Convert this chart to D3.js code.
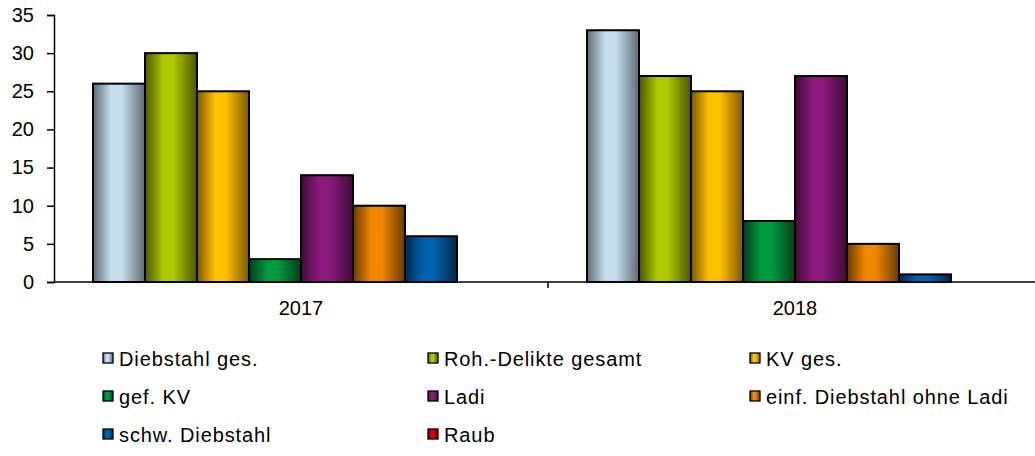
<!DOCTYPE html>
<html><head><meta charset="utf-8">
<script src="https://cdn.jsdelivr.net/npm/d3@7"></script>
<style>
html,body{margin:0;padding:0;background:#fff;}
svg{display:block;font-family:"Liberation Sans",Arial,sans-serif;}
</style></head>
<body>
<svg id="chart" width="1035" height="456"></svg>
<script>
const categories = ["2017", "2018"];
const seriesNames = ["Diebstahl ges.", "Roh.-Delikte gesamt", "KV ges.", "gef. KV", "Ladi", "einf. Diebstahl ohne Ladi", "schw. Diebstahl", "Raub"];
const values2017 = [26, 30, 25, 3, 14, 10, 6, 0];
const values2018 = [33, 27, 25, 8, 27, 5, 1, 0];
const yTicks = [0, 5, 10, 15, 20, 25, 30, 35];
const lightColors = ["#c6dfee", "#afc800", "#ffc200", "#009a40", "#8c1a7c", "#f08800", "#0062ab", "#e00000"];
const darkColors  = ["#5c6a74", "#4a5600", "#7a5800", "#003d1a", "#3d0b36", "#6a3a00", "#00284a", "#600000"];

const valuesByCat = [values2017, values2018];
const svg = d3.select("#chart");
const margin = {left: 54, top: 15, right: -7, bottom: 174};
const W = 1035, H = 456;
const x0 = d3.scaleBand().domain(categories).range([margin.left, W - margin.right]).paddingInner(0).paddingOuter(0);
const y = d3.scaleLinear().domain([0, 35]).range([H - margin.bottom, margin.top]);

// gradients
const defs = svg.append("defs");
seriesNames.forEach((s, i) => {
  const g = defs.append("linearGradient").attr("id", "g" + i).attr("x1", "0%").attr("x2", "100%").attr("y1", "0%").attr("y2", "0%");
  g.append("stop").attr("offset", "0%").attr("stop-color", darkColors[i]);
  g.append("stop").attr("offset", "35%").attr("stop-color", lightColors[i]);
  g.append("stop").attr("offset", "55%").attr("stop-color", lightColors[i]);
  g.append("stop").attr("offset", "100%").attr("stop-color", darkColors[i]);
});

const groupPad = 39;
const inner = d3.scaleBand().domain(d3.range(seriesNames.length));

const groups = svg.append("g").selectAll("g").data(categories).join("g")
  .attr("transform", d => `translate(${x0(d)},0)`);
groups.each(function(cat, ci) {
  inner.range([groupPad, x0.bandwidth() - groupPad]);
  d3.select(this).selectAll("rect").data(valuesByCat[ci].map((v, i) => ({v, i})).filter(d => d.v > 0))
    .join("rect")
    .attr("x", d => inner(d.i))
    .attr("width", inner.bandwidth())
    .attr("y", d => y(d.v))
    .attr("height", d => y(0) - y(d.v))
    .attr("fill", d => `url(#g${d.i})`)
    .attr("stroke", "#000")
    .attr("stroke-width", 2);
});

// y axis
const yAxis = d3.axisLeft(y).tickValues(yTicks).tickSize(7).tickPadding(13);
const ya = svg.append("g").attr("transform", `translate(${margin.left},0)`).call(yAxis);
ya.select(".domain").attr("stroke", "#000").attr("stroke-width", 1.5);
ya.selectAll(".tick line").attr("stroke", "#000").attr("stroke-width", 1.5);
ya.selectAll("text").attr("font-size", 20).attr("fill", "#000").attr("font-family", "'Liberation Sans',Arial,sans-serif");

// x axis
const xa = svg.append("g").attr("transform", `translate(0,${y(0)})`);
xa.append("line").attr("x1", margin.left).attr("x2", W).attr("y1", 0).attr("y2", 0).attr("stroke", "#000").attr("stroke-width", 1.5);
categories.slice(1).forEach(c => {
  xa.append("line").attr("x1", x0(c)).attr("x2", x0(c)).attr("y1", 0).attr("y2", 6).attr("stroke", "#000").attr("stroke-width", 1.5);
});
xa.selectAll("text.cat").data(categories).join("text").attr("class", "cat")
  .attr("x", d => x0(d) + x0.bandwidth() / 2).attr("y", 33)
  .attr("text-anchor", "middle").attr("font-size", 20).text(d => d);

// legend
const legCols = [103, 428, 750];
const legRows = [353, 391, 429];
const leg = svg.append("g");
seriesNames.forEach((s, i) => {
  const cx = legCols[i % 3], cy = legRows[Math.floor(i / 3)];
  leg.append("rect").attr("x", cx).attr("y", cy).attr("width", 10).attr("height", 10)
    .attr("fill", `url(#g${i})`).attr("stroke", "#000").attr("stroke-width", 1.3);
  leg.append("text").attr("x", cx + 16).attr("y", cy + 13).attr("font-size", 20)
    .attr("letter-spacing", "0.9px").text(s);
});
</script>
</body></html>
